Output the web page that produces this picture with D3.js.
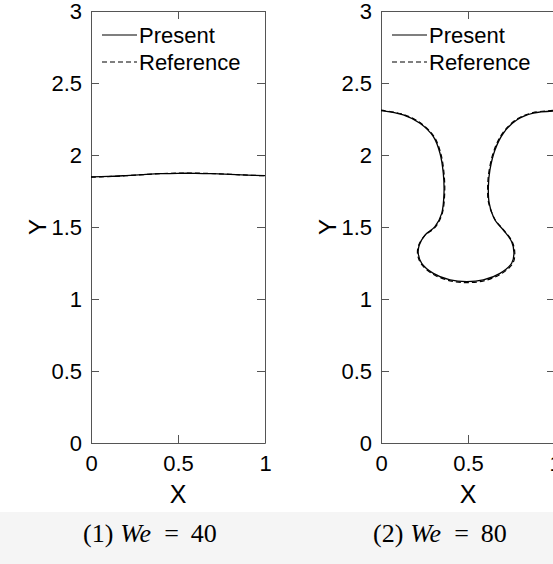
<!DOCTYPE html>
<html><head><meta charset="utf-8">
<script src="https://cdn.jsdelivr.net/npm/d3@7"></script>
<style>body{margin:0;background:#fff}svg{display:block}</style>
</head><body>
<svg id="c" width="553" height="564"></svg>
<script>
// ---- data ----
const xTicks = [0, 0.5, 1];
const yTicks = [0, 0.5, 1, 1.5, 2, 2.5, 3];
const seriesNames = ["Present", "Reference"];
const captions = ["We = 40", "We = 80"];
const captionNums = ["(1)", "(2)"];

// panel 1 (We = 40): interface
const p1PresentX = [0, 0.1, 0.2, 0.3, 0.4, 0.5, 0.6, 0.7, 0.8, 0.9, 1.0];
const p1PresentY = [1.848, 1.851, 1.857, 1.864, 1.870, 1.873, 1.873, 1.870, 1.865, 1.860, 1.857];
const p1RefX = [0, 0.1, 0.2, 0.3, 0.4, 0.5, 0.6, 0.7, 0.8, 0.9, 1.0];
const p1RefY = [1.846, 1.850, 1.856, 1.864, 1.871, 1.874, 1.874, 1.871, 1.866, 1.860, 1.856];

// panel 2 (We = 80): interface
const p2PresentX = [0, 0.128, 0.224, 0.301, 0.339, 0.358, 0.362, 0.349, 0.310, 0.253, 0.220, 0.214, 0.234, 0.301, 0.397, 0.493,
  0.588, 0.684, 0.751, 0.764, 0.751, 0.703, 0.655, 0.622, 0.617, 0.626, 0.655, 0.703, 0.780, 0.875, 1.0];
const p2PresentY = [2.308, 2.278, 2.220, 2.127, 2.012, 1.873, 1.734, 1.595, 1.502, 1.444, 1.375, 1.317, 1.248, 1.178, 1.132, 1.120,
  1.132, 1.178, 1.248, 1.317, 1.398, 1.479, 1.549, 1.665, 1.780, 1.896, 2.035, 2.151, 2.243, 2.290, 2.306];
const p2RefX = [0, 0.128, 0.226, 0.304, 0.343, 0.362, 0.366, 0.352, 0.312, 0.251, 0.216, 0.210, 0.231, 0.299, 0.397, 0.495,
  0.591, 0.688, 0.756, 0.769, 0.755, 0.706, 0.657, 0.619, 0.613, 0.622, 0.651, 0.700, 0.778, 0.874, 1.0];
const p2RefY = [2.312, 2.282, 2.224, 2.130, 2.014, 1.874, 1.734, 1.594, 1.499, 1.440, 1.372, 1.313, 1.243, 1.172, 1.126, 1.114,
  1.126, 1.173, 1.244, 1.314, 1.396, 1.478, 1.549, 1.665, 1.781, 1.897, 2.037, 2.154, 2.247, 2.294, 2.310];

const panels = [
  {present: d3.zip(p1PresentX, p1PresentY), ref: d3.zip(p1RefX, p1RefY)},
  {present: d3.zip(p2PresentX, p2PresentY), ref: d3.zip(p2RefX, p2RefY)}
];

// ---- drawing ----
const svg = d3.select("#c");
svg.append("rect").attr("x",0).attr("y",512).attr("width",553).attr("height",52).attr("fill","#f5f5f5");

const left0 = [91, 381];
const W = 174, plotTop = 11, plotBottom = 443;
const fontSans = "'Liberation Sans', Arial, Helvetica, sans-serif";
const axisColor = "#555";

panels.forEach((p, i) => {
  const x = d3.scaleLinear().domain([0, 1]).range([left0[i], left0[i] + W]);
  const y = d3.scaleLinear().domain([0, 3]).range([plotBottom, plotTop]);
  const g = svg.append("g");

  const fmt = d => String(d);
  const styleAxis = sel => {
    sel.select(".domain").attr("stroke", axisColor).attr("stroke-width", 1);
    sel.selectAll(".tick line").attr("stroke", axisColor).attr("stroke-width", 1);
    sel.selectAll(".tick text").attr("fill", "#000").style("font-family", fontSans).style("font-size", "22px");
  };
  g.append("g").attr("transform", `translate(0,${plotBottom})`)
    .call(d3.axisBottom(x).tickValues(xTicks).tickFormat(fmt).tickSizeInner(-8).tickSizeOuter(0).tickPadding(12)).call(styleAxis);
  g.append("g").attr("transform", `translate(0,${plotTop})`)
    .call(d3.axisTop(x).tickValues(xTicks).tickFormat("").tickSizeInner(-8).tickSizeOuter(0)).call(styleAxis);
  g.append("g").attr("transform", `translate(${left0[i]},0)`)
    .call(d3.axisLeft(y).tickValues(yTicks).tickFormat(fmt).tickSizeInner(-8).tickSizeOuter(0).tickPadding(9)).call(styleAxis);
  g.append("g").attr("transform", `translate(${left0[i] + W},0)`)
    .call(d3.axisRight(y).tickValues(yTicks).tickFormat("").tickSizeInner(-8).tickSizeOuter(0)).call(styleAxis);

  const line = d3.line().x(d => x(d[0])).y(d => y(d[1])).curve(d3.curveCatmullRom.alpha(0.5));
  g.append("path").datum(p.ref).attr("d", line).attr("fill", "none").attr("stroke", "#000")
    .attr("stroke-width", 1.2).attr("stroke-dasharray", "5,3");
  g.append("path").datum(p.present).attr("d", line).attr("fill", "none").attr("stroke", "#000")
    .attr("stroke-width", 1.3);

  // legend
  const lx = left0[i] + 11;
  [35, 62].forEach((ly, k) => {
    g.append("line").attr("x1", lx).attr("x2", lx + 35).attr("y1", ly).attr("y2", ly)
      .attr("stroke", "#000").attr("stroke-width", 1.2).attr("stroke-dasharray", k ? "5,3" : null);
    g.append("text").attr("x", lx + 37).attr("y", ly).attr("dy", "0.35em")
      .style("font-family", fontSans).style("font-size", "22px").text(seriesNames[k]);
  });

  // axis labels
  g.append("text").attr("x", left0[i] + W / 2).attr("y", 503).attr("text-anchor", "middle")
    .style("font-family", fontSans).style("font-size", "25px").text("X");
  g.append("text").attr("x", 0).attr("y", 0)
    .attr("dy", "0.32em").attr("text-anchor", "middle")
    .attr("transform", `translate(${left0[i] - 53},${(plotTop + plotBottom) / 2}) rotate(-90)`)
    .style("font-family", fontSans).style("font-size", "24px").text("Y");

  // caption
  const cap = g.append("text").attr("x", left0[i] - 8).attr("y", 542)
    .style("font-family", "'Liberation Serif', 'Times New Roman', serif").style("font-size", "26px");
  const parts = captions[i].split(" = ");
  cap.append("tspan").text(captionNums[i]);
  cap.append("tspan").attr("dx", 7).style("font-style", "italic").text(parts[0]);
  cap.append("tspan").attr("dx", 13).text("=");
  cap.append("tspan").attr("dx", 12).text(parts[1]);
});
</script>
</body></html>
